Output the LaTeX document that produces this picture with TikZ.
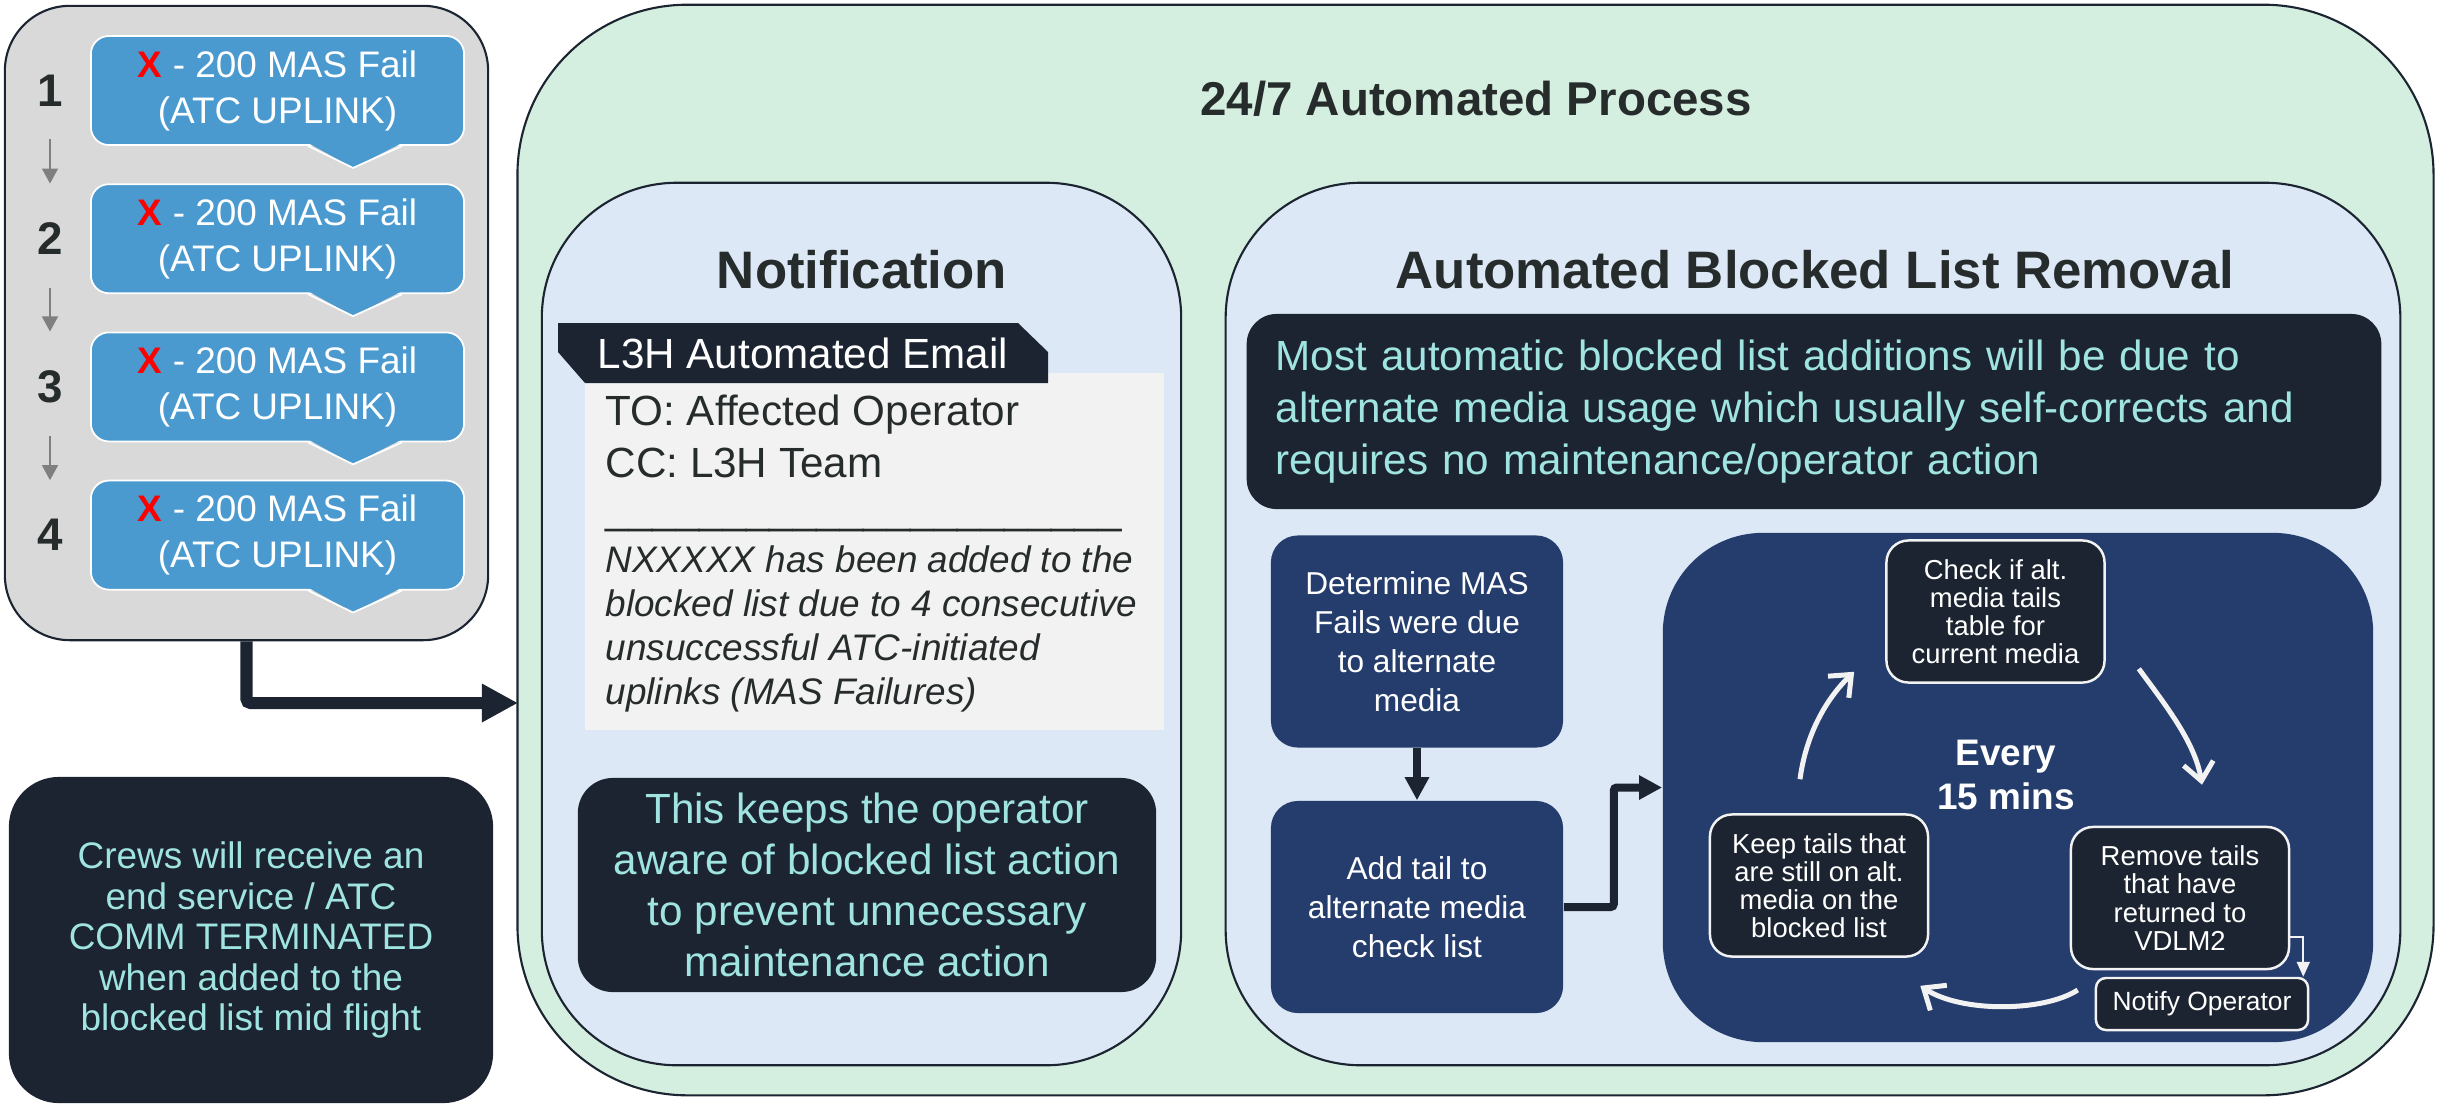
\documentclass[tikz,border=0pt]{standalone}
\usepackage{fontspec}
\setmainfont{Liberation Sans}
\usetikzlibrary{arrows.meta}
\definecolor{darkbg}{RGB}{27,36,48}
\definecolor{navy}{RGB}{37,61,109}
\definecolor{cyantext}{RGB}{160,228,226}
\definecolor{greenbg}{RGB}{212,239,223}
\definecolor{paleblue}{RGB}{220,232,246}
\definecolor{greybg}{RGB}{217,217,217}
\definecolor{failblue}{RGB}{74,154,208}
\definecolor{mailgrey}{RGB}{242,242,242}
\definecolor{inkgrey}{RGB}{38,43,43}
\definecolor{arrowgrey}{RGB}{127,127,127}
\definecolor{loopwhite}{RGB}{242,242,242}

\begin{document}
\begin{tikzpicture}[x=0.01cm,y=-0.01cm,
    panel/.style={draw=darkbg,line width=0.6pt,inner sep=0pt},
    failbox/.style={fill=failblue,draw=white,line width=0.5pt,rounded corners=0.18cm,
        minimum width=3.73cm,minimum height=1.09cm,align=center,text=white,
        font=\fontsize{10.5}{13.1}\selectfont,inner sep=0pt},
    stepnum/.style={font=\fontsize{13}{13}\selectfont\bfseries,text=inkgrey,inner sep=0pt},
    noteblock/.style={fill=darkbg,text=cyantext,align=center,inner sep=0pt},
    navybox/.style={fill=navy,text=white,rounded corners=0.27cm,minimum width=2.92cm,
        minimum height=2.12cm,align=center,font=\fontsize{9}{11.1}\selectfont,inner sep=0pt},
    cyclebox/.style={fill=darkbg,draw=loopwhite,line width=0.7pt,text=white,rounded corners=0.22cm,
        minimum width=2.18cm,minimum height=1.42cm,align=center,
        font=\fontsize{7.8}{8}\selectfont,inner sep=0pt},
    greyarrow/.style={draw=arrowgrey,line width=0.4pt,-{Triangle[length=0.15cm,width=0.16cm]}},
    thickarrow/.style={draw=darkbg,line width=0.12cm,-{Triangle[length=0.36cm,width=0.36cm]}},
    linkarrow/.style={draw=darkbg,line width=0.08cm,-{Triangle[length=0.23cm,width=0.23cm]}},
    looparrow/.style={draw=loopwhite,line width=0.05cm,-{Straight Barb[length=0.18cm,width=0.3cm]}}]

    \useasboundingbox (0,0) rectangle (2438,1105);

    % left column
    \node[panel,fill=greybg,rounded corners=0.65cm,minimum width=4.83cm,minimum height=6.34cm] (failpanel) at (246.5,323) {};
    \foreach \i in {1,...,4} {
        \pgfmathsetmacro{\cy}{90.5+148.2*(\i-1)}
        \node[failbox] (fail\i) at (277.5,\cy) {{\color{red}\bfseries X} - 200 MAS Fail\\(ATC UPLINK)};
        \fill[failblue] ([xshift=0.305cm,yshift=0.03cm]fail\i.south) -- ([xshift=0.755cm,yshift=-0.22cm]fail\i.south) -- ([xshift=1.245cm,yshift=0.03cm]fail\i.south) -- cycle;
        \draw[white,line width=0.5pt] ([xshift=0.305cm]fail\i.south) -- ([xshift=0.755cm,yshift=-0.22cm]fail\i.south) -- ([xshift=1.245cm]fail\i.south);
        \node[stepnum] (num\i) at (50,\cy) {\i};
    }
    \foreach \i/\j in {1/2,2/3,3/4}
        \draw[greyarrow,shorten <=0.325cm,shorten >=0.385cm] (num\i) -- (num\j);

    \node[noteblock,rounded corners=0.5cm,minimum width=4.84cm,minimum height=3.26cm,
        font=\fontsize{10.5}{11.5}\selectfont] (crews) at (251,940)
        {Crews will receive an\\end service / ATC\\COMM TERMINATED\\when added to the\\blocked list mid flight};

    % automated process
    \node[panel,fill=greenbg,rounded corners=1.7cm,minimum width=19.15cm,minimum height=10.9cm] (autoproc) at (1475.5,550) {};
    \node[anchor=base,font=\fontsize{13.5}{16}\selectfont\bfseries,text=inkgrey] (proctitle) at (1476,115) {24/7 Automated Process};

    \coordinate (procin) at (518,703);
    \draw[thickarrow,rounded corners=0.04cm] (failpanel.south) |- (procin);

    \node[panel,fill=paleblue,rounded corners=1.35cm,minimum width=6.39cm,minimum height=8.82cm] (notifypanel) at (861.5,624) {};
    \node[panel,fill=paleblue,rounded corners=1.35cm,minimum width=11.74cm,minimum height=8.82cm] (removalpanel) at (1813,624) {};
    \node[anchor=base,font=\fontsize{15}{18}\selectfont\bfseries,text=inkgrey] (notifytitle) at (862,288) {Notification};
    \node[anchor=base,font=\fontsize{15}{18}\selectfont\bfseries,text=inkgrey] (removaltitle) at (1815,288) {Automated Blocked List Removal};

    % email
    \node[fill=mailgrey,minimum width=5.79cm,minimum height=3.57cm,inner sep=0pt] (mailbody) at (874.5,551.5) {};
    \fill[darkbg] (558,323) -- (1018,323) -- (1048,352) -- (1048,383) -- (585,383) -- (558,352) -- cycle;
    \node[anchor=base west,text=white,font=\fontsize{12}{14}\selectfont,inner sep=0pt] (mailtag) at (597,368) {L3H Automated Email};
    \node[anchor=west,align=left,inner sep=0pt,text=inkgrey,font=\fontsize{12}{14.8}\selectfont] (mailto) at (605,436) {TO: Affected Operator\\CC: L3H Team};
    \node[anchor=west,inner sep=0pt,text=inkgrey,font=\fontsize{12}{14}\selectfont] (mailrule) at (605,528) {\_\_\_\_\_\_\_\_\_\_\_\_\_\_\_\_\_\_\_\_\_\_};
    \node[anchor=west,align=left,inner sep=0pt,text=inkgrey,font=\fontsize{10.5}{12.5}\selectfont\itshape] (mailtext) at (605,629)
        {NXXXXX has been added to the\\blocked list due to 4 consecutive\\unsuccessful ATC-initiated\\uplinks (MAS Failures)};

    \node[noteblock,rounded corners=0.35cm,minimum width=5.78cm,minimum height=2.14cm,
        font=\fontsize{12}{14.5}\selectfont] (keepsaware) at (867,885)
        {This keeps the operator\\aware of blocked list action\\to prevent unnecessary\\maintenance action};

    % blocked list removal
    \node[noteblock,align=left,rounded corners=0.3cm,minimum width=11.34cm,minimum height=1.95cm,
        text width=10.76cm,inner xsep=0.29cm,font=\fontsize{12}{14.8}\selectfont] (mostadds) at (1814,411.5)
        {Most automatic blocked list additions will be due to\\alternate media usage which usually self-corrects and\\requires no maintenance/operator action};

    \node[navybox] (determine) at (1417,641.5) {Determine MAS\\Fails were due\\to alternate\\media};
    \node[navybox] (addtail) at (1417,907) {Add tail to\\alternate media\\check list};
    \draw[linkarrow] (determine) -- (addtail);

    \node[fill=navy,rounded corners=1cm,minimum width=7.1cm,minimum height=5.09cm,inner sep=0pt] (refreshloop) at (2018,787.5) {};
    \draw[linkarrow,rounded corners=0.03cm] (addtail.east) -- ++(50,0) |- (refreshloop.west);

    \node[cyclebox] (checkalt) at (1995.5,611.5) {Check if alt.\\media tails\\table for\\current media};
    \node[cyclebox] (keeptails) at (1819,885.5) {Keep tails that\\are still on alt.\\media on the\\blocked list};
    \node[cyclebox] (removetails) at (2180,898) {Remove tails\\that have\\returned to\\VDLM2};
    \node[cyclebox,rounded corners=0.1cm,minimum width=2.12cm,minimum height=0.52cm,
        font=\fontsize{7.5}{9}\selectfont] (notifyop) at (2202,1004) {Notify Operator};
    \node[font=\fontsize{10.5}{12.5}\selectfont\bfseries,text=white,align=center] (every) at (2006,775) {Every\\15 mins};

    \draw[looparrow] ([xshift=-0.19cm,yshift=0.34cm]keeptails.north) .. controls +(6,-45) and +(-28,27) .. ([xshift=-0.31cm,yshift=0.12cm]checkalt.south west);
    \draw[looparrow] ([xshift=0.33cm,yshift=0.15cm]checkalt.south east) .. controls +(28,38) and +(-7,-42) .. ([xshift=0.22cm,yshift=0.41cm]removetails.north);
    \draw[looparrow] ([xshift=-0.17cm,yshift=0.14cm]notifyop.west) .. controls +(-34,22) and +(41,27) .. ([xshift=-0.09cm,yshift=-0.28cm]keeptails.south east);
    \draw[draw=loopwhite,line width=0.6pt,-{Triangle[length=0.15cm,width=0.13cm]}] ([yshift=-0.39cm]removetails.east) -| ([xshift=-0.06cm]notifyop.north east);
\end{tikzpicture}
\end{document}
